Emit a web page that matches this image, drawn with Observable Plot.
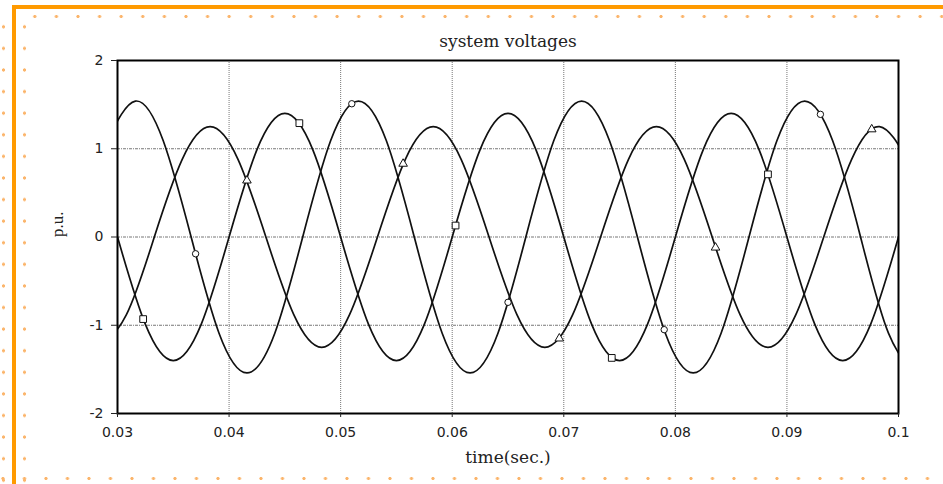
<!DOCTYPE html>
<html><head><meta charset="utf-8">
<script src="https://cdn.jsdelivr.net/npm/d3@7"></script>
<script src="https://cdn.jsdelivr.net/npm/@observablehq/plot@0.6"></script>
<style>
body{margin:0;background:#fff;width:943px;height:484px;overflow:hidden;position:relative}
#chart{position:absolute;left:0;top:0}
.deco{position:absolute;pointer-events:none}
</style></head><body>
<div id="chart"></div>
<div class="deco" style="left:12px;top:5px;width:931px;height:4px;background:#ff9a00"></div>
<div class="deco" style="left:12px;top:5px;width:4px;height:479px;background:#ff9a00"></div>
<div class="deco" style="left:24px;top:13.5px;width:919px;height:5px;background:radial-gradient(circle, #fbb46a 1.3px, transparent 1.9px) 0 0/21.6px 5px repeat-x"></div>
<div class="deco" style="left:0.5px;top:16.2px;width:5px;height:470px;background:radial-gradient(circle, #fbb46a 1.3px, transparent 1.9px) 0 0/5px 21.6px repeat-y"></div>
<div class="deco" style="left:21.5px;top:16.2px;width:5px;height:470px;background:radial-gradient(circle, #fbb46a 1.3px, transparent 1.9px) 0 0/5px 21.6px repeat-y"></div>
<div class="deco" style="left:0;top:475.8px;width:943px;height:5px;background:radial-gradient(circle, #fbb46a 1.3px, transparent 1.9px) -7.8px 0/21.5px 5px repeat-x"></div>
<script>
// Phase A (largest amplitude, circle markers)
const tA = [0.0291,0.0316,0.0341,0.0366,0.0391,0.0416,0.0441,0.0466,0.0491,0.0516,0.0541,0.0566,0.0591,0.0616,0.0641,0.0666,0.0691,0.0716,0.0741,0.0766,0.0791,0.0816,0.0841,0.0866,0.0891,0.0916,0.0941,0.0966,0.0991,0.1016];
const vA = [1.09,1.54,1.09,0,-1.09,-1.54,-1.09,0,1.09,1.54,1.09,0,-1.09,-1.54,-1.09,0,1.09,1.54,1.09,0,-1.09,-1.54,-1.09,0,1.09,1.54,1.09,0,-1.09,-1.54];
// Phase B (smallest amplitude, triangle markers)
const tB = [0.0283,0.0308,0.0333,0.0358,0.0383,0.0408,0.0433,0.0458,0.0483,0.0508,0.0533,0.0558,0.0583,0.0608,0.0633,0.0658,0.0683,0.0708,0.0733,0.0758,0.0783,0.0808,0.0833,0.0858,0.0883,0.0908,0.0933,0.0958,0.0983,0.1008];
const vB = [-1.25,-0.88,0,0.88,1.25,0.88,0,-0.88,-1.25,-0.88,0,0.88,1.25,0.88,0,-0.88,-1.25,-0.88,0,0.88,1.25,0.88,0,-0.88,-1.25,-0.88,0,0.88,1.25,0.88];
// Phase C (middle amplitude, square markers)
const tC = [0.0300,0.0325,0.0350,0.0375,0.0400,0.0425,0.0450,0.0475,0.0500,0.0525,0.0550,0.0575,0.0600,0.0625,0.0650,0.0675,0.0700,0.0725,0.0750,0.0775,0.0800,0.0825,0.0850,0.0875,0.0900,0.0925,0.0950,0.0975,0.1000];
const vC = [0,-0.99,-1.40,-0.99,0,0.99,1.40,0.99,0,-0.99,-1.40,-0.99,0,0.99,1.40,0.99,0,-0.99,-1.40,-0.99,0,0.99,1.40,0.99,0,-0.99,-1.40,-0.99,0];
// Markers
const circT = [0.037,0.051,0.065,0.079,0.093];
const circV = [-0.19,1.51,-0.74,-1.05,1.39];
const triT = [0.0416,0.0556,0.0696,0.0836,0.0976];
const triV = [0.64,0.83,-1.15,-0.12,1.22];
const sqT = [0.0323,0.0463,0.0603,0.0743,0.0883];
const sqV = [-0.93,1.29,0.13,-1.37,0.71];
// Ticks
const xTicks = [0.03,0.04,0.05,0.06,0.07,0.08,0.09,0.1];
const xTickLabels = ["0.03","0.04","0.05","0.06","0.07","0.08","0.09","0.1"];
const yTicks = [-2,-1,0,1,2];
const yTickLabels = ["-2","-1","0","1","2"];
const xGrid = [0.04,0.05,0.06,0.07,0.08,0.09];
const yGrid = [-1,0,1];
const titleText = "system voltages";
const xLabel = "time(sec.)";
const yLabel = "p.u.";

const rows = (t, v) => t.map((x, i) => ({t: x, v: v[i]}));
const lineOpts = {x: "t", y: "v", curve: "natural", stroke: "#111", strokeWidth: 1.7, clip: true};
const dotOpts = {x: "t", y: "v", fill: "white", stroke: "#111", strokeWidth: 1};

const chart = Plot.plot({
  width: 943, height: 484,
  marginLeft: 117, marginRight: 45, marginTop: 60, marginBottom: 71,
  x: {domain: [0.03, 0.1]},
  y: {domain: [-2, 2]},
  style: {background: "transparent", fontFamily: "DejaVu Sans", fontSize: "14px", color: "#222"},
  marks: [
    Plot.gridX(xGrid, {stroke: "#777", strokeOpacity: 1, strokeWidth: 1, strokeDasharray: "1,1"}),
    Plot.gridY(yGrid, {stroke: "#777", strokeOpacity: 1, strokeWidth: 1, strokeDasharray: "3,1,1,1"}),
    Plot.line(rows(tA, vA), lineOpts),
    Plot.line(rows(tB, vB), lineOpts),
    Plot.line(rows(tC, vC), lineOpts),
    Plot.dot(rows(circT, circV), {...dotOpts, symbol: "circle", r: 3.2}),
    Plot.dot(rows(triT, triV), {...dotOpts, symbol: "triangle", r: 3.2}),
    Plot.dot(rows(sqT, sqV), {...dotOpts, symbol: "square", r: 3.8}),
    Plot.frame({stroke: "black", strokeWidth: 2}),
    Plot.axisX(xTicks, {tickFormat: d => xTickLabels[xTicks.indexOf(d)], tickSize: 4, tickPadding: 10, label: null, fontSize: 14}),
    Plot.axisY(yTicks, {tickFormat: d => yTickLabels[yTicks.indexOf(d)], tickSize: 6, tickPadding: 8, label: null, fontSize: 14}),
    Plot.text([titleText], {frameAnchor: "top", dy: -26, fontFamily: "DejaVu Serif", fontSize: 17, fill: "#222"}),
    Plot.text([xLabel], {frameAnchor: "bottom", dy: 49, fontFamily: "DejaVu Serif", fontSize: 17, fill: "#222"}),
    Plot.text([yLabel], {frameAnchor: "left", dx: -60, rotate: -90, fontFamily: "Liberation Serif", fontSize: 17, fill: "#222"})
  ]
});
document.getElementById("chart").appendChild(chart);
</script>
</body></html>
